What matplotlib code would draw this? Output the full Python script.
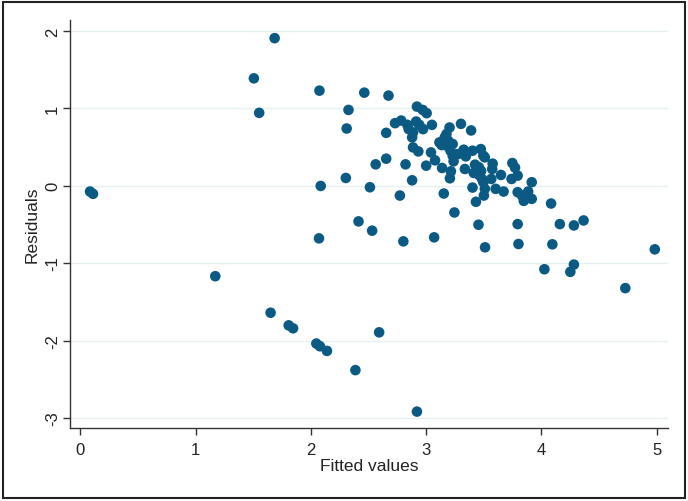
import numpy as np
import matplotlib.pyplot as plt
from matplotlib.patches import Rectangle

plt.rcParams['font.family'] = ['Liberation Sans', 'DejaVu Sans']
plt.rcParams['axes.unicode_minus'] = False

# fitted values and residuals
fitted = [0.084, 0.11, 1.686, 1.506, 1.552, 1.171, 2.075, 2.464, 2.674, 2.327,
          2.311, 2.086, 2.304, 2.513, 2.563, 2.654, 2.654, 2.414, 2.532, 2.071,
          2.803, 2.773, 2.822, 2.879, 3.07, 3.154, 3.246, 3.433, 3.455, 3.512,
          3.795, 3.802, 4.085, 4.096, 4.161, 4.283, 4.367, 4.027, 4.283, 4.252,
          4.729, 4.985, 1.651, 1.808, 1.846, 2.048, 2.079, 2.14, 2.593, 2.387,
          2.921,
          2.921, 2.971, 3.005, 2.731, 2.784, 2.838, 2.914, 2.941, 3.051, 2.974,
          2.849, 2.887, 2.879, 2.887, 2.933, 3.303, 3.391, 3.204, 3.177, 3.162,
          3.116, 3.135, 3.192, 3.181, 3.231, 3.212, 3.231, 3.239, 3.277, 3.327,
          3.345, 3.403, 3.475, 3.497, 3.51, 3.043, 3.078, 3.001, 3.139, 3.216,
          3.207, 3.337, 3.425, 3.459, 3.414, 3.459, 3.478, 3.486, 3.403, 3.497,
          3.51, 3.502, 3.578, 3.574, 3.566, 3.604, 3.65, 3.673, 3.742, 3.749,
          3.772, 3.795, 3.795, 3.833, 3.848, 3.886, 3.917, 3.917]
residuals = [-0.075, -0.105, 1.906, 1.387, 0.941, -1.169, 1.228, 1.202, 1.164, 0.979,
             0.739, -0.003, 0.1, -0.02, 0.276, 0.349, 0.683, -0.461, -0.581, -0.68,
             -0.719, -0.127, 0.276, 0.07, -0.667, -0.101, -0.346, -0.208, -0.504, -0.796,
             -0.496, -0.753, -0.23, -0.757, -0.496, -0.513, -0.449, -1.079, -1.019, -1.113,
             -1.323, -0.822, -1.641, -1.804, -1.842, -2.039, -2.074, -2.134, -1.894, -2.382,
             -2.918,
             1.022, 0.979, 0.937, 0.808, 0.842, 0.786, 0.829, 0.786, 0.786, 0.731,
             0.731, 0.688, 0.624, 0.495, 0.443, 0.799, 0.714, 0.752, 0.667, 0.624,
             0.559, 0.525, 0.581, 0.516, 0.538, 0.452, 0.388, 0.315, 0.409, 0.465,
             0.379, 0.452, 0.473, 0.388, 0.366, 0.43, 0.328, 0.259, 0.229, 0.186,
             0.096, 0.216, 0.272, 0.238, 0.165, 0.139, 0.19, 0.087, -0.024, 0.045,
             -0.041, -0.127, 0.285, 0.216, 0.087, -0.041, 0.139, -0.075, 0.087, 0.293,
             0.233, 0.13, -0.084, -0.127, -0.196, -0.075, 0.045, -0.17]

xticks = [0, 1, 2, 3, 4, 5]
yticks = [-3, -2, -1, 0, 1, 2]

fig = plt.figure(figsize=(6.88, 5.02), dpi=100)
ax = fig.add_axes([0.1017, 0.1454, 0.8693, 0.8136])

ax.scatter(fitted, residuals, s=58, color='#0b5a84', edgecolors='none', zorder=3)

ax.set_xlim(-0.09, 5.10)
ax.set_ylim(-3.13, 2.146)
ax.set_xticks(xticks)
ax.set_yticks(yticks)
ax.grid(axis='y', color='#e6f0f2', linewidth=1.0, zorder=0)
ax.set_axisbelow(True)

for side in ['top', 'right']:
    ax.spines[side].set_visible(False)
for side in ['left', 'bottom']:
    ax.spines[side].set_color('#333333')
    ax.spines[side].set_linewidth(1.0)

ax.tick_params(axis='both', direction='out', length=5, width=1, colors='#333333',
               labelsize=12, labelcolor='#222222')
ax.tick_params(axis='x', pad=5)
ax.tick_params(axis='y', pad=2)
for lab in ax.get_yticklabels():
    lab.set_rotation(90)
    lab.set_va('center')

ax.set_xlabel('Fitted values', fontsize=12.5, color='#222222', labelpad=1)
ax.set_ylabel('Residuals', fontsize=12.5, color='#222222', labelpad=4)

# outer border like the source image
fig.patches.append(Rectangle((0.004, 0.005), 0.992, 0.99, transform=fig.transFigure,
                             fill=False, edgecolor='#222222', linewidth=1.5))

fig.savefig('out.png', dpi=100)
